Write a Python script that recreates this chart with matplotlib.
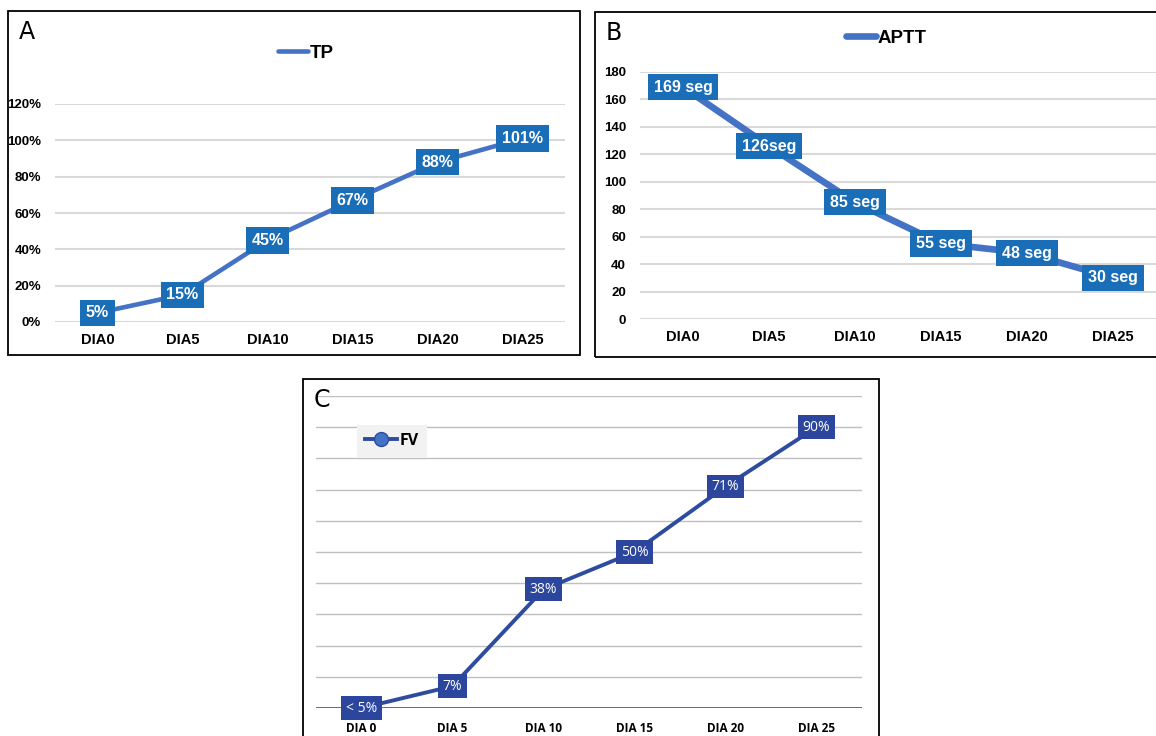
#
# plot.py
#   - Three coagulation panels (TP, APTT, FV) over days.
#

import matplotlib
matplotlib.use("Agg")
import matplotlib.pyplot as plt
from matplotlib.patches import Rectangle

W, H = 1156, 736

# panel A: TP
tp_days = ["DIA0", "DIA5", "DIA10", "DIA15", "DIA20", "DIA25"]
tp_values = [5, 15, 45, 67, 88, 101]
tp_labels = ["5%", "15%", "45%", "67%", "88%", "101%"]
tp_ticks = [0, 20, 40, 60, 80, 100, 120]

# panel B: APTT
aptt_days = ["DIA0", "DIA5", "DIA10", "DIA15", "DIA20", "DIA25"]
aptt_values = [169, 126, 85, 55, 48, 30]
aptt_labels = ["169 seg", "126seg", "85 seg", "55 seg", "48 seg", "30 seg"]
aptt_ticks = [0, 20, 40, 60, 80, 100, 120, 140, 160, 180]

# panel C: FV
fv_days = ["DIA 0", "DIA 5", "DIA 10", "DIA 15", "DIA 20", "DIA 25"]
fv_values = [0, 7, 38, 50, 71, 90]
fv_labels = ["< 5%", "7%", "38%", "50%", "71%", "90%"]
fv_grid = [10, 20, 30, 40, 50, 60, 70, 80, 90, 100]

ARIAL = "Liberation Sans"
CALIBRI = "Open Sans"
LINE_BLUE = "#4472C4"
BOX_BLUE = "#1A6DB7"
FV_LINE = "#2E4C9F"
FV_BOX = "#2B469C"


def px_axes(fig, x0, y0, x1, y1):
    return fig.add_axes([x0 / W, 1 - y1 / H, (x1 - x0) / W, (y1 - y0) / H])


def frame(fig, x0, y0, x1, y1, letter):
    rect = Rectangle((x0 / W, 1 - y1 / H), (x1 - x0) / W, (y1 - y0) / H,
                     transform=fig.transFigure, fill=False, ec="black", lw=1.3)
    fig.add_artist(rect)
    fig.text((x0 + 11) / W, 1 - (y0 + 21) / H, letter, fontsize=17,
             family="DejaVu Sans", va="center", ha="left")


def clean(ax):
    for s in ax.spines.values():
        s.set_visible(False)
    ax.tick_params(length=0)
    ax.set_xlim(-0.5, 5.5)


def main():
    fig = plt.figure(figsize=(W / 100, H / 100), dpi=100)

    # ---- A ----
    frame(fig, 8, 11, 580, 355, "A")
    ax = px_axes(fig, 55, 104, 565, 322)
    clean(ax)
    x = list(range(len(tp_days)))
    ax.set_ylim(0, 120)
    for t in tp_ticks:
        ax.axhline(t, color="#D9D9D9", lw=1.5, zorder=0)
    ax.plot(x, tp_values, color=LINE_BLUE, lw=3.3, solid_capstyle="round", label="TP")
    for xi, v, lab in zip(x, tp_values, tp_labels):
        ax.text(xi, v, lab, ha="center", va="center", color="white",
                family=ARIAL, weight="bold", fontsize=11.5, clip_on=False,
                bbox=dict(boxstyle="square,pad=0.36", fc=BOX_BLUE, ec="none"))
    ax.set_yticks(tp_ticks)
    ax.set_yticklabels(["{}%".format(t) for t in tp_ticks], family=ARIAL,
                       weight="bold", fontsize=9.5)
    ax.set_xticks(x)
    ax.set_xticklabels(tp_days, family=ARIAL, weight="bold", fontsize=10.5)
    ax.tick_params(axis="y", pad=10)
    ax.tick_params(axis="x", pad=8)
    ax.legend(loc="center", bbox_to_anchor=(306 / W, 1 - 53 / H),
              bbox_transform=fig.transFigure, frameon=False, handlelength=1.6,
              handletextpad=0.1, prop=dict(family=ARIAL, weight="bold", size=13.5))

    # ---- B ----
    frame(fig, 595, 12, 1170, 357, "B")
    ax = px_axes(fig, 640, 72, 1156, 319)
    clean(ax)
    x = list(range(len(aptt_days)))
    ax.set_ylim(0, 180)
    for t in aptt_ticks:
        ax.axhline(t, color="#D9D9D9", lw=1.5, zorder=0)
    ax.plot(x, aptt_values, color=LINE_BLUE, lw=4.8, solid_capstyle="round", label="APTT")
    for xi, v, lab in zip(x, aptt_values, aptt_labels):
        ax.text(xi, v, lab, ha="center", va="center", color="white",
                family=ARIAL, weight="bold", fontsize=11.5, clip_on=False,
                bbox=dict(boxstyle="square,pad=0.35", fc=BOX_BLUE, ec="none"))
    ax.set_yticks(aptt_ticks)
    ax.set_yticklabels([str(t) for t in aptt_ticks], family=ARIAL,
                       weight="bold", fontsize=9.5)
    ax.set_xticks(x)
    ax.set_xticklabels(aptt_days, family=ARIAL, weight="bold", fontsize=10.5)
    ax.tick_params(axis="y", pad=10)
    ax.tick_params(axis="x", pad=8)
    ax.legend(loc="center", bbox_to_anchor=(886 / W, 1 - 38 / H),
              bbox_transform=fig.transFigure, frameon=False, handlelength=1.6,
              handletextpad=0.1, prop=dict(family=ARIAL, weight="bold", size=13.5))

    # ---- C ----
    frame(fig, 303, 379, 879, 760, "C")
    ax = px_axes(fig, 316, 396, 862, 708)
    clean(ax)
    x = list(range(len(fv_days)))
    ax.set_ylim(0, 100)
    for t in fv_grid:
        ax.axhline(t, color="#BFBFBF", lw=1, zorder=0)
    ax.axhline(0, color="#404040", lw=1.8, zorder=0)
    ax.plot(x, fv_values, color=FV_LINE, lw=2.8, marker="o", ms=10,
            mfc="#4472C4", mec=FV_LINE, label="FV", clip_on=False)
    for xi, v, lab in zip(x, fv_values, fv_labels):
        ax.text(xi, v, lab, ha="center", va="center", color="white",
                family=CALIBRI, fontsize=10, clip_on=False,
                bbox=dict(boxstyle="square,pad=0.32", fc=FV_BOX, ec="none"))
    ax.set_yticks([])
    ax.set_xticks(x)
    ax.set_xticklabels(fv_days, family=CALIBRI, weight="bold", fontsize=8.5)
    ax.tick_params(axis="x", pad=10)
    ax.legend(loc="center", bbox_to_anchor=(392 / W, 1 - 441 / H),
              bbox_transform=fig.transFigure, frameon=True, fancybox=False,
              facecolor="#F2F2F2", edgecolor="none", framealpha=1,
              handlelength=2.0, handletextpad=0.2, borderpad=0.5,
              prop=dict(family=CALIBRI, weight="bold", size=11.5))

    fig.savefig("out.png", dpi=100)


if __name__ == '__main__':
    main()
